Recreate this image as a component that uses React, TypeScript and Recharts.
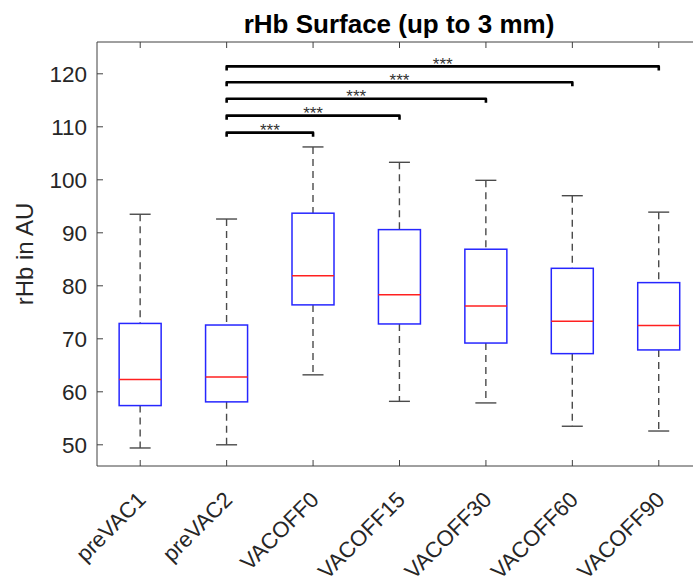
import { Bar, ComposedChart, ReferenceLine, XAxis, YAxis } from "recharts";

const groups = ["preVAC1", "preVAC2", "VACOFF0", "VACOFF15", "VACOFF30", "VACOFF60", "VACOFF90"];
const whiskerLow = [49.4, 50.0, 63.2, 58.2, 57.9, 53.5, 52.6];
const q1 = [57.4, 58.1, 76.4, 72.8, 69.2, 67.2, 67.9];
const median = [62.3, 62.8, 81.9, 78.3, 76.2, 73.3, 72.5];
const q3 = [72.9, 72.6, 93.7, 90.6, 86.9, 83.3, 80.6];
const whiskerHigh = [93.5, 92.6, 106.2, 103.3, 99.9, 97.0, 93.9];

const yTicks = [50, 60, 70, 80, 90, 100, 110, 120];

// significance brackets, all starting at preVAC2
const sigFrom = "preVAC2";
const sigTo = ["VACOFF0", "VACOFF15", "VACOFF30", "VACOFF60", "VACOFF90"];
const sigHeight = [108.9, 112.1, 115.3, 118.4, 121.4];
const sigLabel = ["***", "***", "***", "***", "***"];

const data = groups.map((name, i) => ({
  name,
  range: [whiskerLow[i], whiskerHigh[i]],
  q1: q1[i],
  median: median[i],
  q3: q3[i],
}));

const AXIS = "#404040";
const TEXT = "#262626";

function BoxShape(props: any) {
  const { x, y, width, height, payload } = props;
  if (!payload) return null;
  const cx = x + width / 2;
  const top = Math.min(y, y + height);
  const bottom = Math.max(y, y + height);
  const [lo, hi] = payload.range;
  const py = (v: number) => top + ((hi - v) / (hi - lo)) * (bottom - top);
  const half = 21;
  const cap = 10.5;
  const yq1 = py(payload.q1);
  const yq3 = py(payload.q3);
  const ymed = py(payload.median);
  return (
    <g>
      <line x1={cx} x2={cx} y1={top} y2={yq3} stroke="#4a4a4a" strokeWidth={1.4} strokeDasharray="7 5" />
      <line x1={cx} x2={cx} y1={yq1} y2={bottom} stroke="#4a4a4a" strokeWidth={1.4} strokeDasharray="7 5" />
      <line x1={cx - cap} x2={cx + cap} y1={top} y2={top} stroke="#4a4a4a" strokeWidth={1.4} />
      <line x1={cx - cap} x2={cx + cap} y1={bottom} y2={bottom} stroke="#4a4a4a" strokeWidth={1.4} />
      <rect x={cx - half} y={yq3} width={half * 2} height={yq1 - yq3} fill="none" stroke="#2626ff" strokeWidth={1.5} />
      <line x1={cx - half} x2={cx + half} y1={ymed} y2={ymed} stroke="#ff2020" strokeWidth={1.5} />
    </g>
  );
}

function Bracket(props: any) {
  const { x1, x2, y1, text } = props;
  const mid = (x1 + x2) / 2;
  return (
    <g>
      <path
        d={`M${x1},${y1 + 4} L${x1},${y1} L${x2},${y1} L${x2},${y1 + 4}`}
        fill="none"
        stroke="#000"
        strokeWidth={2.6}
        strokeLinejoin="round"
      />
      <text x={mid} y={y1 + 3.5} textAnchor="middle" fontSize={17} fill="#333">
        {text}
      </text>
    </g>
  );
}

function BottomTick(props: any) {
  const { x, y, payload } = props;
  const ax = x + 7;
  const ay = y + 35;
  return (
    <g>
      <line x1={x} x2={x} y1={y} y2={y - 6} stroke={AXIS} />
      <text x={ax} y={ay} transform={`rotate(-45, ${ax}, ${ay})`} textAnchor="end" fontSize={22} fill={TEXT}>
        {payload.value}
      </text>
    </g>
  );
}

function TopTick(props: any) {
  const { x, y } = props;
  return <line x1={x} x2={x} y1={y} y2={y + 6} stroke={AXIS} />;
}

function LeftTick(props: any) {
  const { x, y, payload } = props;
  return (
    <g>
      <line x1={x} x2={x + 6} y1={y} y2={y} stroke={AXIS} />
      <text x={x - 10} y={y} dy={8} textAnchor="end" fontSize={22.5} fill={TEXT}>
        {payload.value}
      </text>
    </g>
  );
}

export default function App() {
  return (
    <div
      style={{
        position: "fixed",
        left: 0,
        top: 0,
        width: 693,
        height: 576,
        overflow: "hidden",
        background: "#fff",
        fontFamily: "'Liberation Sans', Arial, sans-serif",
      }}
    >
      <div
        style={{
          position: "absolute",
          left: 199,
          width: 400,
          top: 11,
          textAlign: "center",
          fontSize: 26,
          lineHeight: "26px",
          fontWeight: "bold",
          color: "#000",
        }}
      >
        rHb Surface (up to 3 mm)
      </div>
      <ComposedChart
        width={720}
        height={576}
        data={data}
        margin={{ top: 40, right: 18, bottom: 0, left: 37 }}
      >
        <XAxis
          dataKey="name"
          height={110}
          tickSize={0}
          tickMargin={0}
          tickLine={false}
          interval={0}
          axisLine={{ stroke: AXIS }}
          tick={<BottomTick />}
        />
        <XAxis
          xAxisId="top"
          orientation="top"
          dataKey="name"
          height={2}
          tickSize={0}
          tickMargin={0}
          tickLine={false}
          interval={0}
          axisLine={{ stroke: AXIS }}
          tick={<TopTick />}
        />
        <YAxis
          width={60}
          domain={[46, 126]}
          ticks={yTicks}
          allowDataOverflow
          tickSize={0}
          tickMargin={0}
          tickLine={false}
          axisLine={{ stroke: AXIS }}
          tick={<LeftTick />}
          label={() => (
            <text
              x={33}
              y={254}
              transform="rotate(-90, 33, 254)"
              textAnchor="middle"
              fontSize={24}
              fill={TEXT}
            >
              rHb in AU
            </text>
          )}
        />
        <Bar dataKey="range" isAnimationActive={false} shape={<BoxShape />} />
        {sigTo.map((to, i) => (
          <ReferenceLine
            key={to}
            segment={[
              { x: sigFrom, y: sigHeight[i] },
              { x: to, y: sigHeight[i] },
            ]}
            ifOverflow="visible"
            shape={(p: any) => <Bracket {...p} text={sigLabel[i]} />}
          />
        ))}
      </ComposedChart>
    </div>
  );
}
